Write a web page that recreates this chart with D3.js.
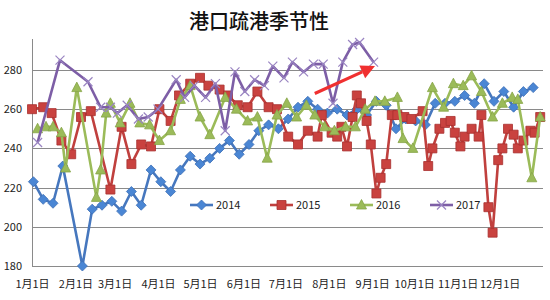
<!DOCTYPE html>
<html><head><meta charset="utf-8">
<script src="https://cdn.jsdelivr.net/npm/d3@7"></script>
<style>
html,body{margin:0;padding:0;background:#fff;}
svg{display:block;}
</style></head>
<body>
<svg id="chart" width="550" height="300"></svg>
<script>
const title = "港口疏港季节性";
const seriesNames = ["2014","2015","2016","2017"];
const yTicks = [180,200,220,240,260,280];
const monthStartDays = [0,31,59,90,120,151,181,212,243,273,304,334];
const monthLabels = ["1月1日","2月1日","3月1日","4月1日","5月1日","6月1日","7月1日","8月1日","9月1日","10月1日","11月1日","12月1日"];

// day of year (0 = Jan 1) and values
const days2014 = [1,8,15,22,36,43,50,57,64,71,78,85,92,99,106,113,120,127,134,141,148,155,162,169,176,183,190,197,204,211,218,225,232,239,246,253,260,267,274,281,288,295,302,309,316,323,330,337,344,351,358];
const vals2014 = [223,214,212,231,180,209,211,213,208,218,211,229,223,218,229,236,232,235,240,244,237,242,249,252,250,255,261,264,260,258,260,257,260,257,264,262,250,255,254,252,263,263,264,267,263,273,264,269,261,269,271];

const days2015 = [0,8,14,21,28,35,42,56,64,71,78,85,91,99,105,113,120,126,134,140,147,154,161,169,175,183,190,197,204,207,214,218,221,225,229,232,235,239,242,246,249,253,257,261,266,271,279,283,286,291,295,299,302,306,309,314,319,321,326,329,333,336,340,344,347,351,356,359,363];
const vals2015 = [260,261,258,244,237,256,259,219,251,232,242,241,260,254,267,273,276,272,270,267,262,261,269,261,260,246,242,249,246,257,248,246,251,241,256,267,263,254,242,217,225,232,257,257,256,255,259,231,240,250,253,254,248,241,246,250,246,257,210,197,234,240,250,247,240,244,249,248,256];

const days2016 = [4,10,15,21,24,32,46,49,53,56,63,70,77,84,91,99,106,113,120,127,138,146,154,161,168,175,182,189,196,202,209,216,224,231,238,245,252,261,265,272,286,294,301,308,314,321,329,336,343,347,357,363];
const vals2016 = [250,251,251,248,230,271,215,229,258,263,253,263,253,252,244,249,265,272,256,247,266,260,254,256,235,257,263,256,262,257,251,249,251,251,260,264,264,266,245,240,271,261,273,272,277,269,256,263,266,265,225,256];

const days2017 = [4,20,40,49,56,61,68,76,83,90,103,109,116,124,131,138,145,152,159,166,172,180,186,194,201,208,215,222,229,234,244];
const vals2017 = [243,285,274,261,261,258,262,255,256,260,275,266,272,266,273,249,279,269,275,272,282,276,284,279,283,283,263,284,293,294,284];

// annotation arrow (day, value)
const arrowFrom = [202,268];
const arrowTo = [245,282];

(function(){
const svg = d3.select("#chart");
const pLeft = 32, pRight = 543, pTop = 39, pBottom = 266;
const x = d3.scaleLinear().domain([0,365]).range([pLeft,pRight]);
const y = d3.scaleLinear().domain([180,295.8]).range([pBottom,pTop]);

const font = "'Noto Sans CJK SC','Noto Sans',sans-serif";

svg.append("text").attr("x",259).attr("y",29).attr("text-anchor","middle")
  .attr("font-family",font).attr("font-size",20).attr("font-weight",500).attr("fill","#111").text(title);

svg.append("g").selectAll("line").data(yTicks).join("line")
  .attr("x1",pLeft).attr("x2",pRight).attr("y1",d=>Math.round(y(d))+0.5).attr("y2",d=>Math.round(y(d))+0.5)
  .attr("stroke","#8a8a8a").attr("stroke-width",1);
svg.append("line").attr("x1",pLeft+0.5).attr("x2",pLeft+0.5).attr("y1",pTop).attr("y2",pBottom)
  .attr("stroke","#8a8a8a");

const yAxis = d3.axisLeft(y).tickValues(yTicks).tickSize(0).tickPadding(10);
const gy = svg.append("g").attr("transform",`translate(${pLeft},0)`).call(yAxis);
gy.select(".domain").remove();
gy.selectAll("text").attr("font-family",font).attr("font-size",11).attr("fill","#222");

const xAxis = d3.axisBottom(x).tickValues(monthStartDays).tickFormat((d,i)=>monthLabels[i]).tickSize(0).tickPadding(14);
const gx = svg.append("g").attr("transform",`translate(0,${pBottom})`).call(xAxis);
gx.select(".domain").remove();
gx.selectAll("text").attr("font-family",font).attr("font-size",11).attr("fill","#222");

const shapes = {
  diamond: "M0,-5L5,0L0,5L-5,0Z",
  square: "M-4.5,-4.5H4.5V4.5H-4.5Z",
  triangle: "M0,-5.5L5,4L-5,4Z",
  cross: "M-4.5,-4.5L4.5,4.5M-4.5,4.5L4.5,-4.5"
};
const series = [
  {name:seriesNames[0], days:days2014, vals:vals2014, line:"#4677be", fill:"#4a86d4", stroke:"#3c6fb5", shape:"diamond"},
  {name:seriesNames[1], days:days2015, vals:vals2015, line:"#c0403e", fill:"#c9423f", stroke:"#a8302e", shape:"square"},
  {name:seriesNames[2], days:days2016, vals:vals2016, line:"#9bbb59", fill:"#9bbb59", stroke:"#86a548", shape:"triangle"},
  {name:seriesNames[3], days:days2017, vals:vals2017, line:"#7d5ea6", fill:"none", stroke:"#9a85c2", shape:"cross"}
];

const lineGen = d3.line().x(d=>x(d[0])).y(d=>y(d[1]));
series.forEach(s=>{
  const pts = s.days.map((d,i)=>[d,s.vals[i]]);
  const g = svg.append("g");
  g.append("path").attr("d",lineGen(pts)).attr("fill","none").attr("stroke",s.line)
    .attr("stroke-width",2.6).attr("stroke-linejoin","round");
  g.selectAll("path.m").data(pts).join("path").attr("class","m")
    .attr("transform",d=>`translate(${x(d[0])},${y(d[1])})`)
    .attr("d",shapes[s.shape])
    .attr("fill",s.fill).attr("stroke",s.stroke).attr("stroke-width",s.shape==="cross"?1.2:0.8);
});

const x1=x(arrowFrom[0]), y1=y(arrowFrom[1]), x2=x(arrowTo[0]), y2=y(arrowTo[1]);
const ang=Math.atan2(y2-y1,x2-x1), hl=14, hw=7;
const bx=x2-hl*Math.cos(ang), by=y2-hl*Math.sin(ang);
const px=-Math.sin(ang), py=Math.cos(ang);
svg.append("line").attr("x1",x1).attr("y1",y1).attr("x2",bx).attr("y2",by)
  .attr("stroke","#f03030").attr("stroke-width",3.2);
svg.append("path").attr("d",`M${x2},${y2}L${bx+px*hw},${by+py*hw}L${bx-px*hw},${by-py*hw}Z`)
  .attr("fill","#f03030");

const legX = [190,270,350,430];
const legY = 205;
series.forEach((s,i)=>{
  const g = svg.append("g").attr("transform",`translate(${legX[i]},${legY})`);
  g.append("line").attr("x1",0).attr("x2",23).attr("y1",0).attr("y2",0).attr("stroke",s.line).attr("stroke-width",2.6);
  g.append("path").attr("transform","translate(11.5,0)").attr("d",shapes[s.shape])
    .attr("fill",s.fill).attr("stroke",s.stroke).attr("stroke-width",s.shape==="cross"?1.2:0.8);
  g.append("text").attr("x",26).attr("y",4).attr("font-family",font).attr("font-size",11).attr("fill","#222").text(s.name);
});
})();
</script>
</body></html>
